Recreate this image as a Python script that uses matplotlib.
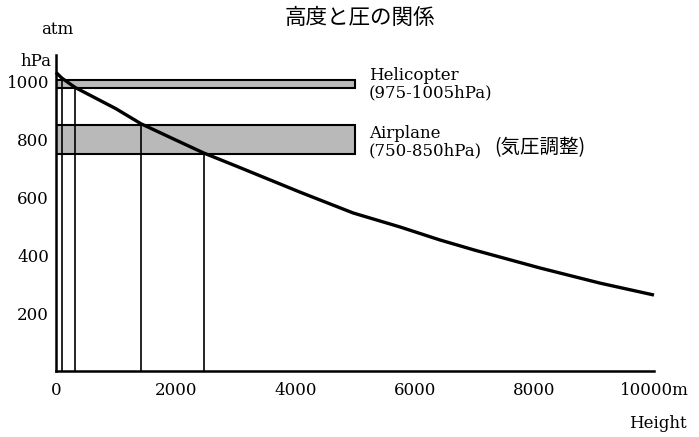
import matplotlib
matplotlib.use("Agg")
import matplotlib.pyplot as plt

# ---- data ----
height_m = [0, 100, 320, 1000, 1420, 2000, 2470, 3000, 4080, 4970, 5750, 6420, 7000, 8100, 9100, 10000]
pressure_hpa = [1030, 1010, 978, 905, 853, 797, 752, 708, 617, 545, 497, 452, 417, 355, 303, 262]

band_low = [975, 750]
band_high = [1005, 850]
band_extent_m = 5000
band_labels = ["Helicopter\n(975-1005hPa)", "Airplane\n(750-850hPa)"]

drop_heights = [100, 320, 1420, 2470]
drop_pressures = [1005, 975, 850, 750]

x_ticks = [0, 2000, 4000, 6000, 8000, 10000]
x_ticklabels = ["0", "2000", "4000", "6000", "8000", "10000m"]
y_ticks = [200, 400, 600, 800, 1000]
y_ticklabels = ["200", "400", "600", "800", "1000"]

SERIF = ["DejaVu Serif"]
CJK = ["Noto Sans CJK JP", "DejaVu Sans"]

fig = plt.figure(figsize=(6.99, 4.37), dpi=100)
W, H = 699, 437
ax = fig.add_axes([56 / W, 66 / H, 598 / W, 316 / H])
ax.set_xlim(0, 10000)
ax.set_ylim(0, 1090)

# bands
for lo, hi in zip(band_low, band_high):
    ax.bar(0, hi - lo, width=band_extent_m, bottom=lo, align="edge",
           color="#b9b9b9", edgecolor="black", linewidth=1.5, zorder=2)

# drop lines
ax.vlines(drop_heights, 0, drop_pressures, colors="black", linewidth=1.2, zorder=3)

# curve
ax.plot(height_m, pressure_hpa, color="black", linewidth=2.4, zorder=4,
        clip_on=False, solid_capstyle="butt")

# spines
for s in ["top", "right"]:
    ax.spines[s].set_visible(False)
for s in ["left", "bottom"]:
    ax.spines[s].set_linewidth(1.8)

ax.set_xticks(x_ticks)
ax.set_xticklabels(x_ticklabels, fontfamily=SERIF, fontsize=12)
ax.set_yticks(y_ticks)
ax.set_yticklabels(y_ticklabels, fontfamily=SERIF, fontsize=12)
ax.tick_params(axis="x", length=0, pad=8)
ax.tick_params(axis="y", length=0, pad=5)

# band labels
ax.text(5230, 990, band_labels[0], fontfamily=SERIF, fontsize=12,
        ha="left", va="center", linespacing=1.05)
ax.text(5230, 790, band_labels[1], fontfamily=SERIF, fontsize=12,
        ha="left", va="center", linespacing=1.05)
ax.text(8090, 772, "(気圧調整)", fontfamily=CJK, fontsize=14,
        ha="center", va="center")

# titles / axis labels
fig.text(360 / W, 1 - 18 / H, "高度と圧の関係", fontfamily=CJK, fontsize=15.5,
         ha="center", va="center")
fig.text(57 / W, 1 - 29 / H, "atm", fontfamily=SERIF, fontsize=12,
         ha="center", va="center")
fig.text(51 / W, 1 - 61 / H, "hPa", fontfamily=SERIF, fontsize=12,
         ha="right", va="center")
fig.text(658 / W, 1 - 423 / H, "Height", fontfamily=SERIF, fontsize=12,
         ha="center", va="center")

fig.savefig("out.png", dpi=100)
